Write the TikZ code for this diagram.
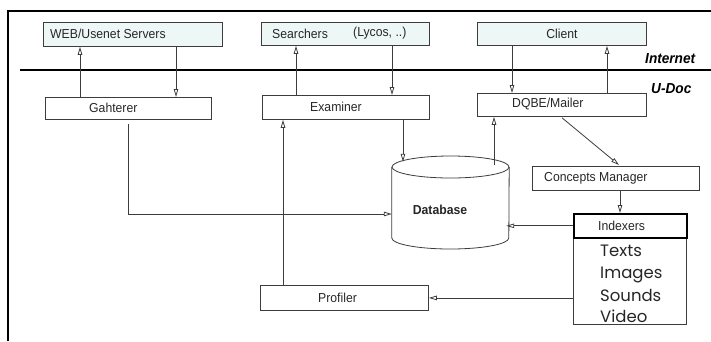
\documentclass[tikz,border=0pt]{standalone}
\usepackage{fontspec}
\setmainfont{Liberation Sans}[FakeStretch=0.94]
\newfontfamily\gothic{Poppins}
\usetikzlibrary{arrows.meta,calc}
\definecolor{boxfill}{RGB}{237,247,245}
\definecolor{ln}{RGB}{60,60,60}
\tikzset{
  boxnode/.style={draw=ln, line width=0.8pt, inner sep=0pt, anchor=north west},
  lbl/.style={anchor=west, inner sep=0pt, text=black!85, font=\fontsize{13}{15}\selectfont},
  arr/.style={draw=ln, line width=0.8pt, -{Triangle[open,length=8pt,width=4.5pt]}},
  plain/.style={draw=ln, line width=0.8pt},
  frameline/.style={draw=black, line width=2pt},
  tag/.style={anchor=west, inner sep=0pt, font=\fontsize{14.5}{16}\selectfont\bfseries\itshape},
  gl/.style={anchor=base west, inner sep=0pt, text=black!85, font=\fontsize{16.5}{18}\gothic}
}
\begin{document}
\begin{tikzpicture}[x=1pt,y=1pt]
\useasboundingbox (0,0) rectangle (711,-341);
% frame and separator
\draw[frameline] (8,-341) -- (8,-11) -- (711,-11);
\draw[frameline] (20,-70) -- (711,-70);
\node[tag] (inet) at (645,-59) {Internet};
\node[tag] (udoc) at (651,-89) {U-Doc};
% internet boxes
\node[boxnode, fill=boxfill, minimum width=179pt, minimum height=24pt] (web) at (43,-22) {};
\node[lbl] (webT) at (50,-34) {WEB/Usenet Servers};
\node[boxnode, fill=boxfill, minimum width=168pt, minimum height=23pt] (srch) at (261,-22) {};
\node[lbl] (srchT) at (272,-33.5) {Searchers};
\node[lbl] (srchT2) at (353,-33.5) {(Lycos, ..)};
\node[boxnode, fill=boxfill, minimum width=169pt, minimum height=23pt] (client) at (477,-22) {};
\node[lbl, anchor=center] (clientT) at (562,-33.5) {Client};
% U-Doc boxes
\node[boxnode, minimum width=166pt, minimum height=22pt] (gah) at (45,-97) {};
\node[lbl] (gahT) at (89,-108) {Gahterer};
\node[boxnode, minimum width=167pt, minimum height=24pt] (exam) at (262,-95) {};
\node[lbl] (examT) at (310,-107) {Examiner};
\node[boxnode, minimum width=169pt, minimum height=23pt] (dqbe) at (477,-93) {};
\node[lbl] (dqbeT) at (512,-104.5) {DQBE/Mailer};
\node[boxnode, minimum width=167pt, minimum height=24pt] (conc) at (532,-166) {};
\node[lbl] (concT) at (544,-178) {Concepts Manager};
\node[boxnode, minimum width=168pt, minimum height=25pt] (prof) at (260,-285) {};
\node[lbl] (profT) at (318,-297.5) {Profiler};
% indexers
\node[boxnode, minimum width=113pt, minimum height=111pt] (idx) at (573,-213) {};
\node[boxnode, draw=black, line width=1.6pt, minimum width=113pt, minimum height=24pt] (idxh) at (573,-213) {};
\node[lbl] (idxT) at (598,-226) {Indexers};
\node[gl] (t1) at (600,-256) {Texts};
\node[gl] (t2) at (600,-278.5) {Images};
\node[gl] (t3) at (600,-301) {Sounds};
\node[gl] (t4) at (600,-322) {Video};
% database cylinder
\node[minimum width=117pt, minimum height=93pt, inner sep=0pt] (db) at (450.5,-202.5) {};
\draw[plain] (db.west |- 0,-167) -- (db.west |- 0,-238) arc (180:360:58.5pt and 11pt) -- (db.east |- 0,-167);
\draw[plain] (450.5,-167) ellipse (58.5pt and 11pt);
\node[inner sep=0pt, font=\fontsize{13}{15}\selectfont\bfseries, text=black!85] (dbT) at (440,-210) {Database};
\coordinate (dbL) at ([yshift=-11.5pt]db.west);
\coordinate (dbR) at ([xshift=-3pt]db.east);
\coordinate (dbIn) at ([xshift=-47.5pt,yshift=-6pt]db.north);
\coordinate (dbOut) at ([xshift=43.5pt,yshift=-9pt]db.north);
% arrows between layers
\draw[arr] ([xshift=35pt]gah.north west) -- ([xshift=35pt]gah.north west |- web.south);
\draw[arr] ([xshift=131pt]gah.north west |- web.south) -- ([xshift=131pt]gah.north west);
\draw[arr] ([xshift=34pt]exam.north west) -- ([xshift=34pt]exam.north west |- srch.south);
\draw[arr] ([xshift=130pt]exam.north west |- srch.south) -- ([xshift=130pt]exam.north west);
\draw[arr] ([xshift=35pt]dqbe.north west |- client.south) -- ([xshift=35pt]dqbe.north west);
\draw[arr] ([xshift=130pt]dqbe.north west) -- ([xshift=130pt]dqbe.north west |- client.south);
% database links
\draw[arr] (exam.south -| dbIn) -- (dbIn);
\draw[arr] (dbOut) -- (dbOut |- dqbe.south);
\draw[arr] ([xshift=83pt,yshift=-4pt]gah.south west) |- (dbL);
\draw[arr] (idxh.west) -- (idxh.west -| dbR);
% others
\draw[arr] ([xshift=23pt]prof.north west) -- ([xshift=23pt]prof.north west |- exam.south);
\draw[arr] ([xshift=85pt,yshift=-1pt]dqbe.south west) -- ([xshift=87pt,yshift=1pt]conc.north west);
\draw[arr] ([xshift=88pt]conc.south west) -- ([xshift=88pt]conc.south west |- idx.north);
\draw[arr] (prof.east -| idx.west) -- (prof.east);
\end{tikzpicture}
\end{document}
